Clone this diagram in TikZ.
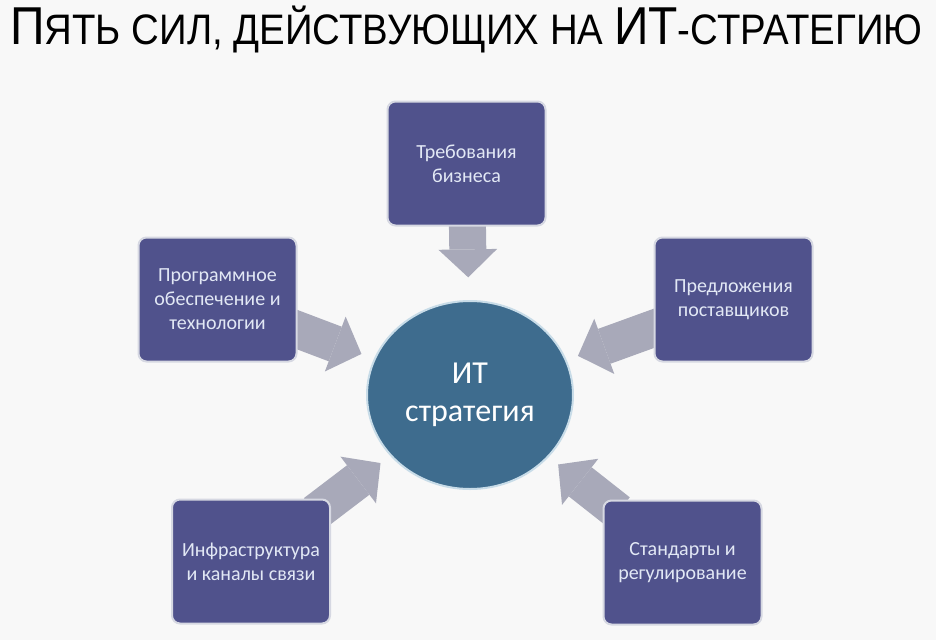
\documentclass[tikz,border=0pt]{standalone}
\usepackage{fontspec}
\setmainfont{Carlito}
\newfontfamily\titlefont[FakeStretch=0.9]{Liberation Sans}
\usetikzlibrary{arrows.meta, positioning, shapes.geometric}

\definecolor{pagebg}{RGB}{248,248,248}
\definecolor{boxfill}{RGB}{80,82,140}
\definecolor{boxline}{RGB}{214,216,226}
\definecolor{boxtext}{RGB}{226,232,245}
\definecolor{corefill}{RGB}{62,108,142}
\definecolor{coreline}{RGB}{200,220,232}
\definecolor{flowgray}{RGB}{168,169,185}

\newcommand{\smcap}[1]{{\fontsize{26}{30}\selectfont #1}}

\pgfdeclarelayer{bg}
\pgfsetlayers{bg,main}

\begin{document}
\begin{tikzpicture}[
    x=0.75pt, y=-0.75pt,
    force/.style={draw=boxline, line width=1.5pt, fill=boxfill, 
    rounded corners=6pt, text=boxtext, align=center, 
    minimum width=118.5pt, minimum height=93pt, inner sep=2pt,
    font=\fontsize{15}{18}\selectfont},
    core/.style={ellipse, draw=coreline, line width=1.5pt, fill=corefill, 
    text=white, align=center, inner sep=0pt,
    minimum width=154.5pt, minimum height=141pt,
    font=\fontsize{24}{28.5}\selectfont},
    flow/.style={draw=flowgray, line width=27.75pt, shorten <=-15pt,
    -{Triangle[length=21pt, width=44pt, line width=0pt, color=flowgray, fill=flowgray]}}
    ]
    \useasboundingbox (0,0) rectangle (936,640);

    \node[anchor=base west, inner sep=0pt, font=\titlefont\fontsize{32.5}{36}\selectfont]
        (title) at (10,44) {\resizebox{684pt}{!}{П\smcap{ЯТЬ СИЛ, ДЕЙСТВУЮЩИХ НА }ИТ\smcap{-СТРАТЕГИЮ}}};

    \node[core]   (it)     at (470,395)   {ИТ\\стратегия};
    \node[force]  (biz)    at (466.5,163.5) {Требования\\бизнеса};
    \node[force]  (soft)   at (217.5,299.5) {Программное\\обеспечение и\\технологии};
    \node[force]  (supp)   at (733.5,299.5) {Предложения\\поставщиков};
    \node[force]  (infra)  at (251,561.5)   {Инфраструктура\\и каналы связи};
    \node[force]  (std)    at (682.5,562.5) {Стандарты и\\регулирование};

    \begin{pgfonlayer}{bg}
    \fill[pagebg] (0,0) rectangle (936,640);
    \path[flow]
    (biz)    edge  [shorten >=17pt]  (it)
    (soft)   edge  [shorten >=10pt]  (it)
    (supp)   edge  [shorten >=9pt]   (it)
    (infra)  edge  [shorten >=9pt]   (it)
    (std)    edge  [shorten >=9pt]   (it)
    ;
    \end{pgfonlayer}
\end{tikzpicture}
\end{document}
